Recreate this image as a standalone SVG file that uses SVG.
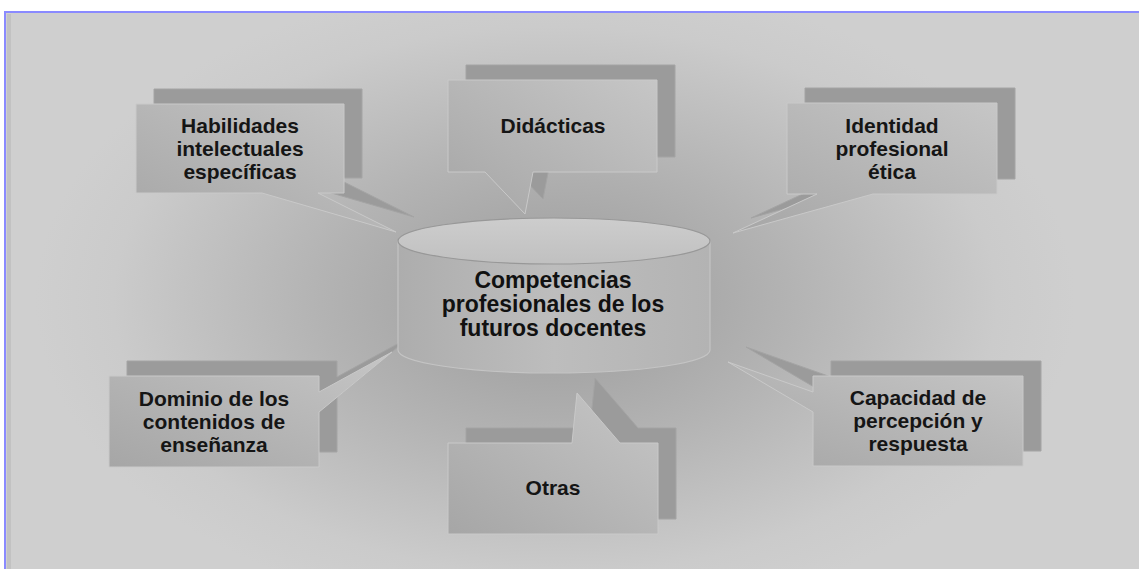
<svg xmlns="http://www.w3.org/2000/svg" width="1139" height="569" viewBox="0 0 1139 569">
<defs>
<radialGradient id="bg" gradientUnits="userSpaceOnUse" cx="555" cy="300" r="520" gradientTransform="translate(555 300) scale(1 0.62) translate(-555 -300)">
<stop offset="0" stop-color="#9a9a9a"/>
<stop offset="0.45" stop-color="#b3b3b3"/>
<stop offset="0.85" stop-color="#cbcbcb"/>
<stop offset="1" stop-color="#cfcfcf"/>
</radialGradient>
<linearGradient id="front" x1="0" y1="1" x2="1" y2="0">
<stop offset="0" stop-color="#a6a6a6"/>
<stop offset="1" stop-color="#c6c6c6"/>
</linearGradient>
<linearGradient id="cylBody" x1="0" y1="0" x2="1" y2="0">
<stop offset="0" stop-color="#adadad"/>
<stop offset="0.5" stop-color="#bdbdbd"/>
<stop offset="1" stop-color="#b3b3b3"/>
</linearGradient>
<linearGradient id="cylTop" x1="0" y1="0" x2="0" y2="1">
<stop offset="0" stop-color="#cdcdcd"/>
<stop offset="1" stop-color="#c0c0c0"/>
</linearGradient>
</defs>
<style>
.back{fill:#9b9b9b;stroke:#a4a4a4;stroke-width:1}
.front{fill:url(#front);stroke:#c9c9c9;stroke-width:1}
.lbl{font-family:"Liberation Sans",Arial,sans-serif;font-weight:bold;font-size:21px;fill:#151515;text-anchor:middle}
.ctr{font-family:"Liberation Sans",Arial,sans-serif;font-weight:bold;font-size:23px;fill:#111111;text-anchor:middle}
</style>
<rect x="0" y="0" width="1139" height="569" fill="#ffffff"/>
<rect x="5" y="12" width="1134" height="557" fill="url(#bg)"/>
<rect x="7" y="14" width="4" height="555" fill="#c2c2c2"/>
<line x1="5" y1="12" x2="1139" y2="12" stroke="#8a8aff" stroke-width="2"/>
<line x1="5" y1="11" x2="5" y2="569" stroke="#8a8aff" stroke-width="2"/>

<g id="connectors"></g>

<g id="node-habilidades">
<path class="back" transform="translate(18 -15)" d="M136,104 H344 V193 H318 L396,232 L262,193 H136 Z"/>
<path class="front" d="M136,104 H344 V193 H318 L396,232 L262,193 H136 Z"/>
<text class="lbl" x="240" y="133">Habilidades</text>
<text class="lbl" x="240" y="156">intelectuales</text>
<text class="lbl" x="240" y="179">específicas</text>
</g>

<g id="node-didacticas">
<path class="back" transform="translate(18 -15)" d="M448,80 H657 V172 H533 L525,214 L485,172 H448 Z"/>
<path class="front" d="M448,80 H657 V172 H533 L525,214 L485,172 H448 Z"/>
<text class="lbl" x="553" y="133">Didácticas</text>
</g>

<g id="node-identidad">
<path class="back" transform="translate(18 -15)" d="M787,103 H997 V194 H873 L733,233 L817,194 H787 Z"/>
<path class="front" d="M787,103 H997 V194 H873 L733,233 L817,194 H787 Z"/>
<text class="lbl" x="892" y="133">Identidad</text>
<text class="lbl" x="892" y="156">profesional</text>
<text class="lbl" x="892" y="179">ética</text>
</g>

<g id="node-dominio">
<path class="back" transform="translate(18 -15)" d="M109,376 H319 V392 L392,352 L319,412 V467 H109 Z"/>
<path class="front" d="M109,376 H319 V392 L392,352 L319,412 V467 H109 Z"/>
<text class="lbl" x="214" y="406">Dominio de los</text>
<text class="lbl" x="214" y="429">contenidos de</text>
<text class="lbl" x="214" y="452">enseñanza</text>
</g>

<g id="node-otras">
<path class="back" transform="translate(18 -15)" d="M448,443 H572 L577,393 L620,443 H658 V534 H448 Z"/>
<path class="front" d="M448,443 H572 L577,393 L620,443 H658 V534 H448 Z"/>
<text class="lbl" x="553" y="495">Otras</text>
</g>

<g id="node-capacidad">
<path class="back" transform="translate(18 -15)" d="M813,376 H1023 V466 H813 V412 L728,362 L813,392 Z"/>
<path class="front" d="M813,376 H1023 V466 H813 V412 L728,362 L813,392 Z"/>
<text class="lbl" x="918" y="405">Capacidad de</text>
<text class="lbl" x="918" y="428">percepción y</text>
<text class="lbl" x="918" y="451">respuesta</text>
</g>

<g id="node-center">
<path d="M398,241 V350 A156,23 0 0 0 710,350 V241 Z" fill="url(#cylBody)" stroke="#c4c4c4" stroke-width="1.2"/>
<ellipse cx="554" cy="241" rx="156" ry="23" fill="url(#cylTop)" stroke="#989898" stroke-width="1.2"/>
<text class="ctr" x="553" y="288">Competencias</text>
<text class="ctr" x="553" y="312">profesionales de los</text>
<text class="ctr" x="553" y="336">futuros docentes</text>
</g>
</svg>
